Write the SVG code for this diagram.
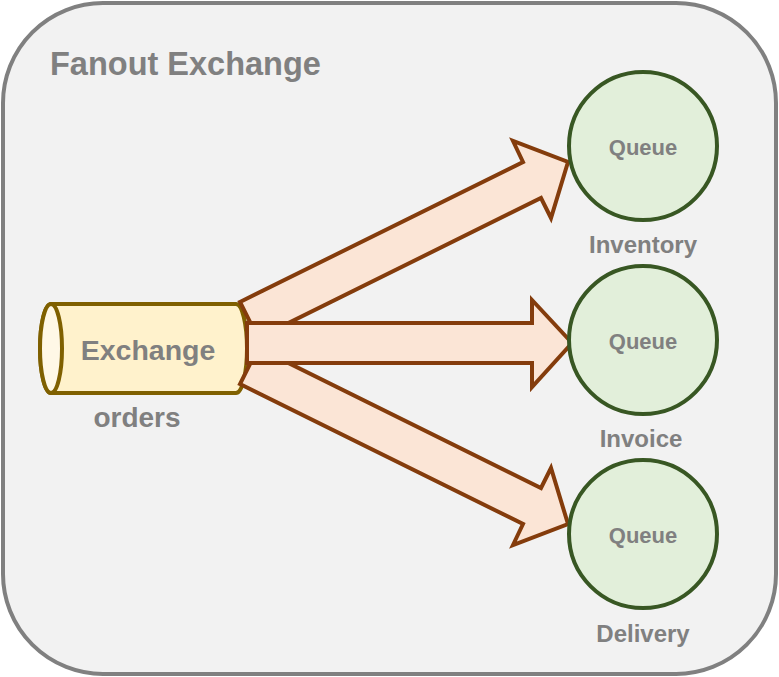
<svg xmlns="http://www.w3.org/2000/svg" width="779" height="677" viewBox="0 0 779 677">
<style>
.lbl{font-family:"Liberation Sans",Arial,sans-serif;font-weight:bold;fill:#808080;text-anchor:middle}
.arrow{fill:#fbe5d6;stroke:#843c0c;stroke-width:4;stroke-linejoin:miter}
.queue{fill:#e2efda;stroke:#385723;stroke-width:4}
</style>
<rect width="779" height="677" fill="#ffffff"/>
<g id="container">
<rect x="3" y="3" width="773" height="671" rx="100" ry="100" fill="#f2f2f2" stroke="#808080" stroke-width="4"/>
<text class="lbl" x="50" y="75" font-size="32.5" style="text-anchor:start">Fanout Exchange</text>
</g>
<g id="exchange">
<path d="M51,304 L236,304 A11,44.5 0 0 1 236,393 L51,393 A11,44.5 0 0 1 51,304 Z" fill="#fff2cc" stroke="#7f6000" stroke-width="4"/>
<ellipse cx="51" cy="348.5" rx="11" ry="44.5" fill="#fff8e6" stroke="#7f6000" stroke-width="4"/>
<text class="lbl" x="148" y="360" font-size="28.5">Exchange</text>
<text class="lbl" x="137" y="427" font-size="28">orders</text>
</g>
<g id="connectors">
<polygon class="arrow" points="240,302 523,162 513,141 568,162 551,218 541,198 258,338"/>
<polygon class="arrow" points="240,384 523,524 513,545 568,524 551,468 541,488 258,348"/>
<polygon class="arrow" points="247,323 532,323 532,300 572,343 532,387 532,363 247,363"/>
</g>
<g id="queue-inventory">
<circle class="queue" cx="643" cy="146" r="74"/>
<text class="lbl" x="643" y="155" font-size="22">Queue</text>
<text class="lbl" x="643" y="253" font-size="24">Inventory</text>
</g>
<g id="queue-invoice">
<circle class="queue" cx="643" cy="340" r="74"/>
<text class="lbl" x="643" y="349" font-size="22">Queue</text>
<text class="lbl" x="641" y="447" font-size="24">Invoice</text>
</g>
<g id="queue-delivery">
<circle class="queue" cx="643" cy="534" r="74"/>
<text class="lbl" x="643" y="543" font-size="22">Queue</text>
<text class="lbl" x="643" y="642" font-size="24">Delivery</text>
</g>
</svg>
